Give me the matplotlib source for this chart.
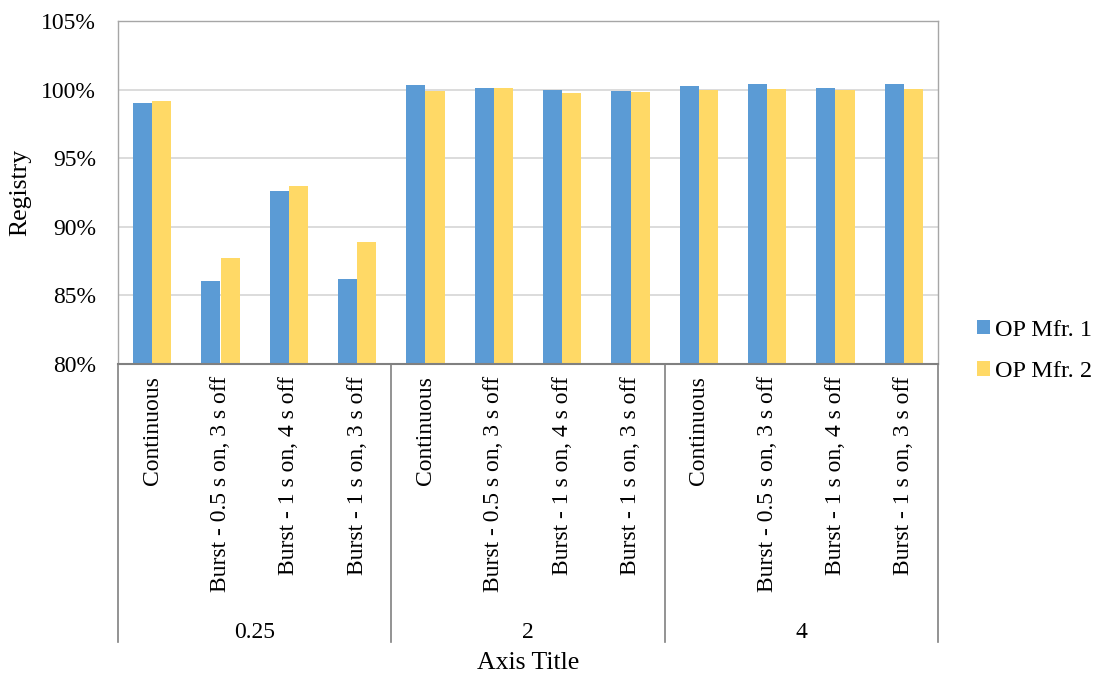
import matplotlib
matplotlib.use("Agg")
import matplotlib.pyplot as plt
import matplotlib.transforms as mtransforms
import numpy as np

plt.rcParams['font.family'] = ['Liberation Serif', 'DejaVu Serif']

groups = ["0.25", "2", "4"]
modes = ["Continuous", "Burst - 0.5 s on, 3 s off", "Burst - 1 s on, 4 s off", "Burst - 1 s on, 3 s off"]
series_names = ["OP Mfr. 1", "OP Mfr. 2"]
mfr1 = [99.0, 86.07, 92.63, 86.17, 100.35, 100.12, 100.0, 99.9, 100.25, 100.42, 100.12, 100.38]
mfr2 = [99.2, 87.75, 92.97, 88.89, 99.88, 100.1, 99.76, 99.85, 100.0, 100.04, 100.0, 100.04]
yticks = [80, 85, 90, 95, 100, 105]

colors = ["#5B9BD5", "#FFD966"]

W, H = 1096, 677
fig = plt.figure(figsize=(W / 100, H / 100), dpi=100)
ax = fig.add_axes([118 / W, 1 - 364 / H, (938 - 118) / W, (364 - 21) / H])

n = len(mfr1)
x = np.arange(n)
bw = 0.28
ax.bar(x - bw / 2, mfr1, bw, color=colors[0], label=series_names[0], zorder=3)
ax.bar(x + bw / 2, mfr2, bw, color=colors[1], label=series_names[1], zorder=3)

ax.set_xlim(-0.5, n - 0.5)
ax.set_ylim(80, 105)
ax.set_yticks(yticks)
ax.set_yticklabels([f"{v}%" for v in yticks], fontsize=17)
ax.tick_params(axis='y', length=0, pad=16)
ax.yaxis.grid(True, color="#D9D9D9", linewidth=1.3, zorder=0)
ax.set_xticks([])

for side in ["top", "right", "left"]:
    ax.spines[side].set_color("#A6A6A6")
    ax.spines[side].set_linewidth(1.0)
ax.spines["bottom"].set_color("#808080")
ax.spines["bottom"].set_linewidth(1.5)
ax.spines["bottom"].set_zorder(4)

trans = mtransforms.blended_transform_factory(ax.transData, ax.transAxes)
ax_h_px = 364 - 21
def ypix(py):
    # convert figure pixel y (from top) to axes fraction
    return (364 - py) / ax_h_px

labels = modes * len(groups)
for i, lab in enumerate(labels):
    ax.text(x[i], ypix(376), lab, rotation=90, ha='center', va='top',
            fontsize=17, transform=trans, clip_on=False)

ng = len(modes)
for g, gname in enumerate(groups):
    center = g * ng + (ng - 1) / 2
    ax.text(center, ypix(632), gname, ha='center', va='center', fontsize=17,
            transform=trans, clip_on=False)

for b in range(len(groups) + 1):
    xb = b * ng - 0.5
    ax.plot([xb, xb], [0, ypix(642)], color="#808080", linewidth=1.2,
            transform=trans, clip_on=False)

fig.text(528 / W, 1 - 663 / H, "Axis Title", ha='center', va='center', fontsize=18.5)
fig.text(20 / W, 1 - 192 / H, "Registry", ha='center', va='center', rotation=90, fontsize=18.5)

leg = fig.legend(loc='center left', bbox_to_anchor=(977 / W, 1 - 351 / H), frameon=False,
                 fontsize=17.5, handlelength=0.55, handleheight=0.55, handletextpad=0.2,
                 labelspacing=0.85, borderaxespad=0, borderpad=0)

fig.savefig("out.png", dpi=100)
